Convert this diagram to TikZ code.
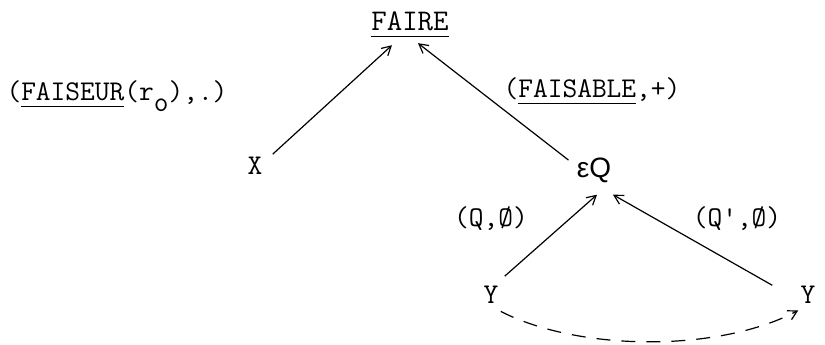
\documentclass[tikz,border=0pt]{standalone}
\usepackage{fontspec}
\newfontfamily\sansf{Liberation Sans}
\usetikzlibrary{arrows.meta}
\newcommand{\myul}[1]{\setbox0\hbox{#1}\rlap{\rule[-3.4pt]{\wd0}{0.55pt}}\box0}
\tikzset{
  lab/.style={inner sep=2pt, font=\ttfamily\fontsize{14.3}{16}\selectfont},
  arr/.style={line width=0.6pt, -{Straight Barb[length=4.5pt,width=5pt]}},
}
\begin{document}
\begin{tikzpicture}[x=0.5pt,y=-0.5pt]
\useasboundingbox (0,0) rectangle (825,344);
\node[lab, anchor=base, font=\ttfamily\fontsize{15}{17}\selectfont] (faire) at (410,30) {\myul{FAIRE}};
\node[lab, anchor=base] (X) at (255,174) {X};
\node[lab, anchor=base, font=\sansf\fontsize{14}{16}\selectfont] (eQ) at (594,177) {εQ};
\node[lab, anchor=base] (Y1) at (491,303) {Y};
\node[lab, anchor=base] (Y2) at (808,303) {Y};
\node[lab, anchor=base] (l1) at (117,100) {(\myul{FAISEUR}(r\raisebox{-5.5pt}{o}),.)};
\node[lab, anchor=base] (l2) at (592,97) {(\myul{FAISABLE},+)};
\node[lab, anchor=base] (l3) at (491,226) {(Q,Ø)};
\node[lab, anchor=base] (l4) at (737,226) {(Q\textquotesingle,Ø)};
\draw[arr] ([shift={(6,2)}]X.north east) -- ([shift={(-18,4)}]faire.south);
\draw[arr] ([shift={(-4,7)}]eQ.north west) -- ([shift={(8,2)}]faire.south);
\draw[arr] ([shift={(2,-5)}]Y1.north east) -- ([shift={(3,8)}]eQ.south);
\draw[arr] ([shift={(-24,-9)}]Y2.west) -- ([shift={(19,8)}]eQ.south);
\draw[arr, dash pattern=on 7pt off 5.5pt]
  ([shift={(-2,4)}]Y1.south east) .. controls (580,352) and (720,352) .. ([shift={(2,3)}]Y2.south west);
\end{tikzpicture}
\end{document}
